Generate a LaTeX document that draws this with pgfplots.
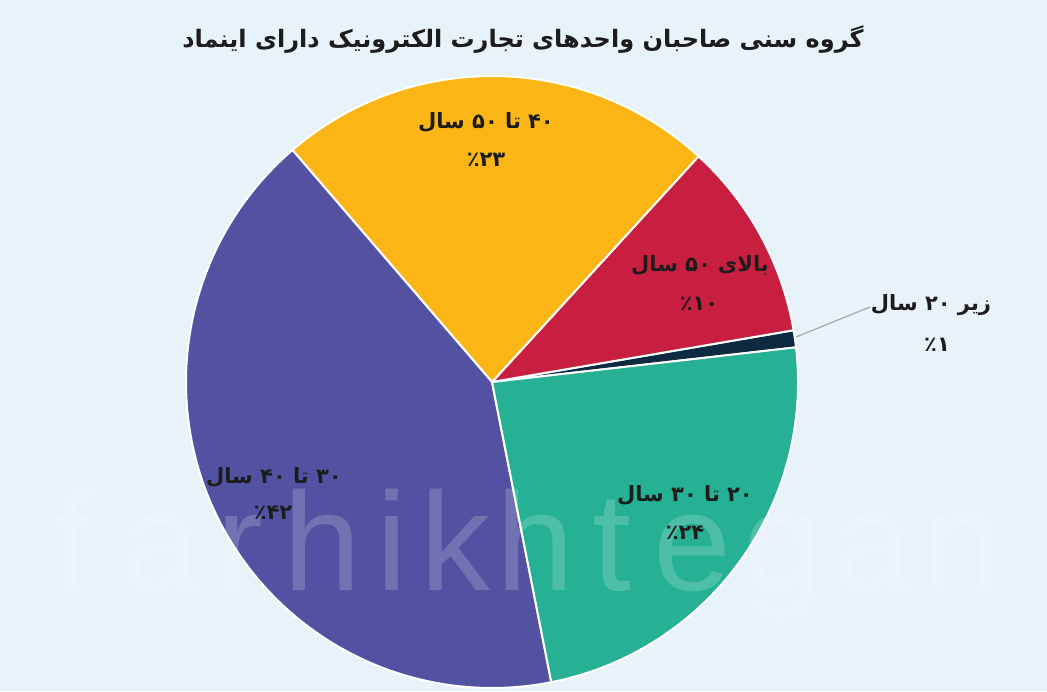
\documentclass[border=0pt]{standalone}
\usepackage{fontspec}
\usepackage{pgfplots}
\usepackage{pgfplotstable}
\pgfplotsset{compat=1.18}
\TeXXeTstate=1
\newfontfamily\fa[Script=Arabic]{DejaVu Sans}
\newfontfamily\wm{Liberation Sans}

\definecolor{bg}{HTML}{E8F2F9}
\definecolor{cnavy}{HTML}{0E2A40}
\definecolor{cred}{HTML}{C81E40}
\definecolor{cyellow}{HTML}{FBB615}
\definecolor{cpurple}{HTML}{5352A2}
\definecolor{cteal}{HTML}{26B094}
\definecolor{txt}{HTML}{1C1C1C}

% share of each age group (percent), counter-clockwise from 6.5 deg
\pgfplotstableread{
group pct
zir20 0.9
bala50 10.5
c40to50 23.1
c30to40 41.8
c20to30 23.7
}\piedata

\newcommand\lbl[1]{{\fa\bfseries\fontsize{10.5}{12}\selectfont\color{txt}\beginR #1\endR}}

\begin{document}
\begin{tikzpicture}[x=0.5pt,y=0.5pt]
\fill[bg] (0,0) rectangle (1047,691);

\def\aS{6.5}
\pgfplotstablegetelem{0}{pct}\of\piedata \pgfmathsetmacro\aA{\aS+3.6*\pgfplotsretval}
\pgfplotstablegetelem{1}{pct}\of\piedata \pgfmathsetmacro\aB{\aA+3.6*\pgfplotsretval}
\pgfplotstablegetelem{2}{pct}\of\piedata \pgfmathsetmacro\aC{\aB+3.6*\pgfplotsretval}
\pgfplotstablegetelem{3}{pct}\of\piedata \pgfmathsetmacro\aD{\aC+3.6*\pgfplotsretval}
\pgfplotstablegetelem{4}{pct}\of\piedata \pgfmathsetmacro\aE{\aD+3.6*\pgfplotsretval}

\begin{axis}[
    at={(246pt,154.5pt)}, anchor=center,
    scale only axis, width=306pt, height=306pt,
    xmin=-1, xmax=1, ymin=-1, ymax=1,
    hide axis, clip=false,
]
\fill[cnavy, draw=white, line width=1pt] (axis cs:0,0) -- (axis cs:{cos(\aS)},{sin(\aS)}) arc[start angle=\aS, end angle=\aA, radius=153pt] -- cycle;
\fill[cred, draw=white, line width=1pt] (axis cs:0,0) -- (axis cs:{cos(\aA)},{sin(\aA)}) arc[start angle=\aA, end angle=\aB, radius=153pt] -- cycle;
\fill[cyellow, draw=white, line width=1pt] (axis cs:0,0) -- (axis cs:{cos(\aB)},{sin(\aB)}) arc[start angle=\aB, end angle=\aC, radius=153pt] -- cycle;
\fill[cpurple, draw=white, line width=1pt] (axis cs:0,0) -- (axis cs:{cos(\aC)},{sin(\aC)}) arc[start angle=\aC, end angle=\aD, radius=153pt] -- cycle;
\fill[cteal, draw=white, line width=1pt] (axis cs:0,0) -- (axis cs:{cos(\aD)},{sin(\aD)}) arc[start angle=\aD, end angle=\aE, radius=153pt] -- cycle;
\end{axis}

% watermark
\foreach \ch/\px in {f/72,a/160,r/240,h/322,i/392,k/455,h/535,t/612,e/692,g/782,a/872,n/962}
  \node[anchor=base, white, opacity=0.18, inner sep=0] at (\px,101) {\wm\fontsize{70}{70}\selectfont \ch};

% title
\node at (523,651) {{\fa\bfseries\fontsize{12}{14}\selectfont\color{txt}\beginR گروه سنی صاحبان واحدهای تجارت الکترونیک دارای اینماد\endR}};

% labels
\begin{scope}[every node/.style={inner sep=0pt}]
\node at (486,569) {\lbl{\beginL ۴۰\endL{} تا \beginL ۵۰\endL{} سال}};
\node at (486,531) {\lbl{\beginL ۲۳\endL ٪}};
\node at (700,426) {\lbl{بالای \beginL ۵۰\endL{} سال}};
\node at (699,387) {\lbl{\beginL ۱۰\endL ٪}};
\node at (931,386) {\lbl{زیر \beginL ۲۰\endL{} سال}};
\node at (937,346) {\lbl{\beginL ۱\endL ٪}};
\node at (685,196) {\lbl{\beginL ۲۰\endL{} تا \beginL ۳۰\endL{} سال}};
\node at (685,158) {\lbl{\beginL ۲۴\endL ٪}};
\node at (274,214) {\lbl{\beginL ۳۰\endL{} تا \beginL ۴۰\endL{} سال}};
\node at (273,178) {\lbl{\beginL ۴۲\endL ٪}};
\end{scope}

\draw[gray!70, line width=0.6pt] (796,354) -- (870,384);

\pgfresetboundingbox
\path[use as bounding box] (0,0) rectangle (1047,691);
\end{tikzpicture}
\end{document}
